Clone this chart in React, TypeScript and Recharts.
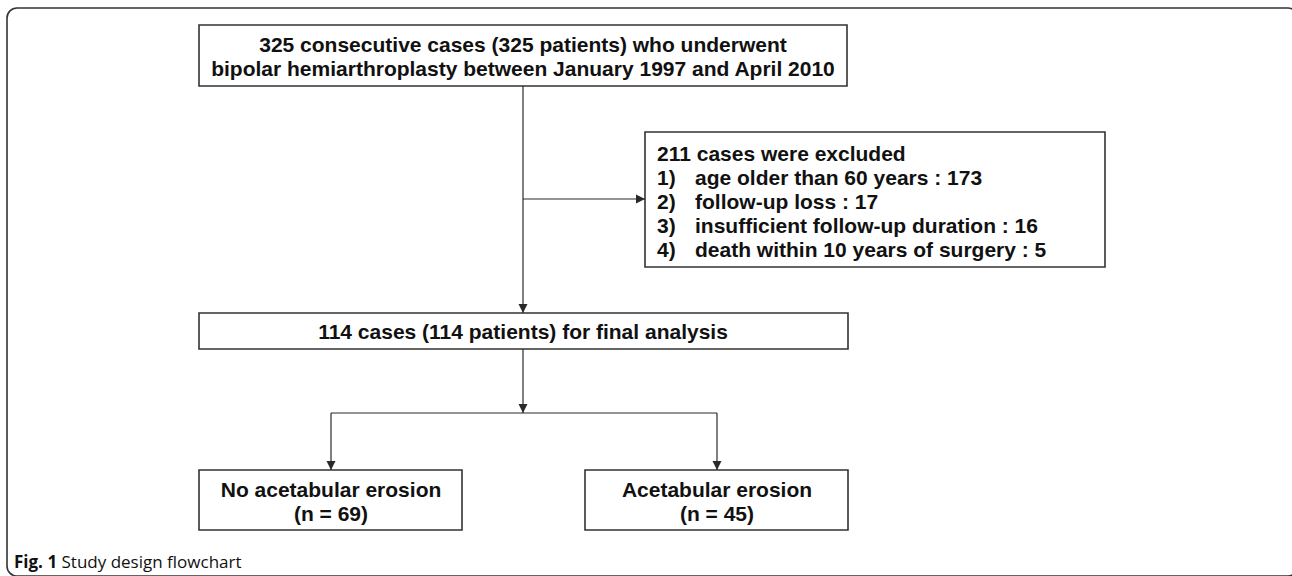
import React from "react";
import { ScatterChart, Scatter, XAxis, YAxis, ReferenceArea } from "recharts";

const W = 1292;
const H = 576;

// flowchart boxes (chart units = pixels of the figure)
const boxes = [
  { id: "screened", x1: 199, x2: 847, y1: 25, y2: 86 },
  { id: "excluded", x1: 645, x2: 1105, y1: 132, y2: 267 },
  { id: "final", x1: 199, x2: 848, y1: 313, y2: 349 },
  { id: "noErosion", x1: 199, x2: 462, y1: 470, y2: 530 },
  { id: "erosion", x1: 585, x2: 848, y1: 470, y2: 530 },
];

const centeredLines = [
  { x: 523, y: 44.5, text: "325 consecutive cases (325 patients) who underwent" },
  { x: 523, y: 68.5, text: "bipolar hemiarthroplasty between January 1997 and April 2010" },
  { x: 523, y: 331, text: "114 cases (114 patients) for final analysis" },
  { x: 331, y: 489.5, text: "No acetabular erosion" },
  { x: 331, y: 513.5, text: "(n = 69)" },
  { x: 717, y: 489.5, text: "Acetabular erosion" },
  { x: 717, y: 513.5, text: "(n = 45)" },
];

const excludedTitle = [{ x: 657, y: 153, text: "211 cases were excluded" }];
const excludedNums = ["1)", "2)", "3)", "4)"];
const excludedReasons = [
  "age older than 60 years : 173",
  "follow-up loss : 17",
  "insufficient follow-up duration : 16",
  "death within 10 years of surgery : 5",
];
const excludedY = [177, 201, 225, 249];

const connectors = [
  [{ x: 523, y: 86 }, { x: 523, y: 313, head: "down" }],
  [{ x: 523, y: 199 }, { x: 645, y: 199, head: "right" }],
  [{ x: 523, y: 349 }, { x: 523, y: 413, head: "down" }],
  [{ x: 331, y: 413 }, { x: 717, y: 413 }],
  [{ x: 331, y: 413 }, { x: 331, y: 470, head: "down" }],
  [{ x: 717, y: 413 }, { x: 717, y: 470, head: "down" }],
];

const caption = [{ x: 14, y: 561, bold: "Fig. 1", rest: " Study design flowchart" }];

const listLines = excludedReasons.map((r, i) => ({ x: 657, y: excludedY[i], num: excludedNums[i], text: r }));

const FONT = "'Liberation Sans', Arial, sans-serif";
const INK = "#111";
const LINE = "#2a2a2a";
const SIZE = 21;

const arrowHead = (props: any) => {
  const { cx, cy, payload } = props;
  if (!payload || !payload.head) return <g />;
  const s = 4.5;
  const l = 9;
  const pts =
    payload.head === "down"
      ? `${cx - s},${cy - l} ${cx + s},${cy - l} ${cx},${cy}`
      : `${cx - l},${cy - s} ${cx - l},${cy + s} ${cx},${cy}`;
  return <polygon points={pts} fill={LINE} />;
};

const centeredText = (props: any) => {
  const { cx, cy, payload } = props;
  return (
    <text x={cx} y={cy} textAnchor="middle" dominantBaseline="central" fontFamily={FONT} fontWeight={700} fontSize={SIZE} fill={INK}>
      {payload.text}
    </text>
  );
};

const leftText = (props: any) => {
  const { cx, cy, payload } = props;
  return (
    <text x={cx} y={cy} dominantBaseline="central" fontFamily={FONT} fontWeight={700} fontSize={SIZE} fill={INK}>
      {payload.text}
    </text>
  );
};

const listText = (props: any) => {
  const { cx, cy, payload } = props;
  return (
    <g>
      <text x={cx} y={cy} dominantBaseline="central" fontFamily={FONT} fontWeight={700} fontSize={SIZE} fill={INK}>
        {payload.num}
      </text>
      <text x={cx + 38} y={cy} dominantBaseline="central" fontFamily={FONT} fontWeight={700} fontSize={SIZE} fill={INK}>
        {payload.text}
      </text>
    </g>
  );
};

const captionText = (props: any) => {
  const { cx, cy, payload } = props;
  return (
    <text x={cx} y={cy} dominantBaseline="central" fontFamily="'Open Sans', sans-serif" fontSize={17} fill={INK}>
      <tspan fontWeight={700}>{payload.bold}</tspan>
      <tspan>{payload.rest}</tspan>
    </text>
  );
};

const frameShape = (props: any) => {
  const { x, y, width, height } = props;
  return <rect x={x} y={y} width={width} height={height} rx={10} ry={10} fill="none" stroke="#333" strokeWidth={1.6} />;
};

export default function App() {
  return (
    <div style={{ position: "absolute", left: 0, top: 0, background: "#fff" }}>
      <ScatterChart width={W} height={H} margin={{ top: 0, right: 0, bottom: 0, left: 0 }}>
        <XAxis type="number" dataKey="x" domain={[0, W]} hide allowDataOverflow />
        <YAxis type="number" dataKey="y" domain={[0, H]} reversed hide allowDataOverflow />
        <ReferenceArea x1={7} x2={1298} y1={8} y2={576} ifOverflow="visible" shape={frameShape} />
        {boxes.map((b) => (
          <ReferenceArea
            key={b.id}
            x1={b.x1}
            x2={b.x2}
            y1={b.y1}
            y2={b.y2}
            fill="#fff"
            fillOpacity={1}
            stroke="#333"
            strokeWidth={1.6}
          />
        ))}
        {connectors.map((c, i) => (
          <Scatter
            key={`c${i}`}
            data={c}
            line={{ stroke: LINE, strokeWidth: 1.2 }}
            shape={arrowHead}
            isAnimationActive={false}
          />
        ))}
        <Scatter data={centeredLines} shape={centeredText} isAnimationActive={false} />
        <Scatter data={excludedTitle} shape={leftText} isAnimationActive={false} />
        <Scatter data={listLines} shape={listText} isAnimationActive={false} />
        <Scatter data={caption} shape={captionText} isAnimationActive={false} />
      </ScatterChart>
    </div>
  );
}
